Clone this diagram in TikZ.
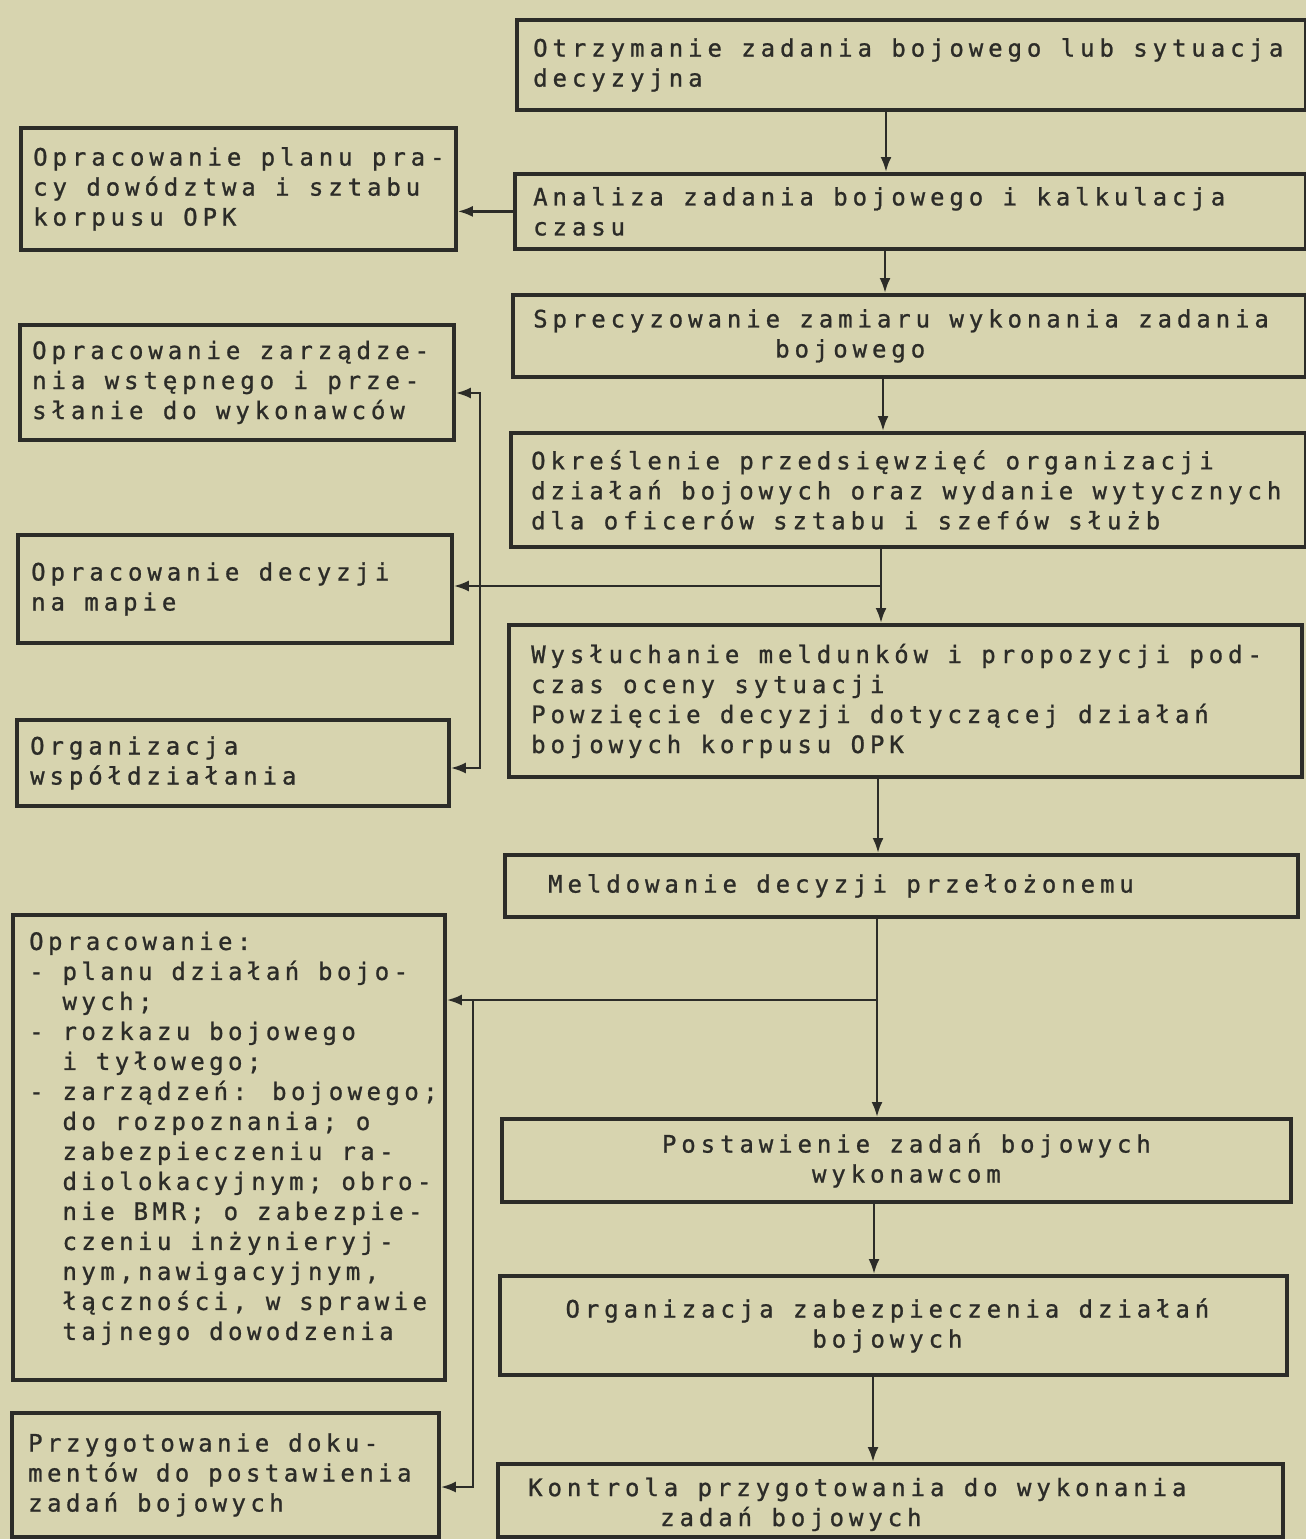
\documentclass[tikz,border=0pt]{standalone}
\usepackage{fontspec}
\newfontfamily\tw{DejaVu Sans Mono}[LetterSpace=20.5,FakeBold=1]
\newfontfamily\twn{DejaVu Sans Mono}[LetterSpace=18.5,FakeBold=1]
\usetikzlibrary{arrows.meta}
\definecolor{paper}{RGB}{215,212,175}
\definecolor{ink}{RGB}{44,44,40}
\newcommand\ii{\hphantom{-}\ }
\begin{document}
\begin{tikzpicture}[x=1pt,y=-1pt,
  box/.style={draw=ink, line width=3.8pt, rectangle, inner sep=0pt, anchor=north west},
  txt/.style={text=ink, font=\tw\fontsize{24}{30}\selectfont, inner sep=0pt, align=left},
  txtn/.style={txt, font=\twn\fontsize{24}{30}\selectfont},
  conn/.style={draw=ink, line width=2.5pt},
  arr/.style={conn, -{Latex[length=15pt,width=11pt]}},
  arrb/.style={conn, {Latex[length=15pt,width=11pt]}-{Latex[length=15pt,width=11pt]}}]
\fill[paper] (0,0) rectangle (1306,1539);
\useasboundingbox (0,0) rectangle (1306,1539);

% right column
\node[box, minimum width=789pt, minimum height=90pt] (r1) at (515,18) {};
\node[box, minimum width=791pt, minimum height=75pt] (r2) at (513,172) {};
\node[box, minimum width=793pt, minimum height=82pt] (r3) at (511,293) {};
\node[box, minimum width=795pt, minimum height=114pt] (r4) at (509,431) {};
\node[box, minimum width=793pt, minimum height=152pt] (r5) at (507,623) {};
\node[box, minimum width=793pt, minimum height=62pt] (r6) at (503,853) {};
\node[box, minimum width=789pt, minimum height=83pt] (r7) at (500,1117) {};
\node[box, minimum width=787pt, minimum height=99pt] (r8) at (498,1274) {};
\node[box, minimum width=785pt, minimum height=73pt] (r9) at (496,1462) {};
% left column
\node[box, minimum width=435pt, minimum height=122pt] (l1) at (19,126) {};
\node[box, minimum width=434pt, minimum height=115pt] (l2) at (18,323) {};
\node[box, minimum width=434pt, minimum height=108pt] (l3) at (16,533) {};
\node[box, minimum width=432pt, minimum height=86pt] (l4) at (15,718) {};
\node[box, minimum width=432pt, minimum height=465pt] (l5) at (11,913) {};
\node[box, minimum width=427pt, minimum height=124pt] (l6) at (10,1411) {};

% texts
\node[txt, anchor=west] (r1t) at ([xshift=18pt]r1.west) {Otrzymanie zadania bojowego lub sytuacja\\decyzyjna};
\node[txt, anchor=west] (r2t) at ([xshift=20pt]r2.west) {Analiza zadania bojowego i kalkulacja\\czasu};
\node[txt, anchor=west] (r3t) at ([xshift=22pt]r3.west) {Sprecyzowanie zamiaru wykonania zadania\\\hspace*{242pt}bojowego};
\node[txt, anchor=west] (r4t) at ([xshift=22pt]r4.west) {Określenie przedsięwzięć organizacji\\działań bojowych oraz wydanie wytycznych\\dla oficerów sztabu i szefów służb};
\node[txt, anchor=west] (r5t) at ([xshift=24pt]r5.west) {Wysłuchanie meldunków i propozycji pod-\\czas oceny sytuacji\\Powzięcie decyzji dotyczącej działań\\bojowych korpusu OPK};
\node[txt, anchor=west] (r6t) at ([xshift=45pt]r6.west) {Meldowanie decyzji przełożonemu};
\node[txt, align=center] (r7t) at ([xshift=10pt]r7.center) {Postawienie zadań bojowych\\wykonawcom};
\node[txt, align=center] (r8t) at ([xshift=-6pt]r8.center) {Organizacja zabezpieczenia działań\\bojowych};
\node[txt, anchor=west] (r9t) at ([xshift=32pt,yshift=-4pt]r9.west) {Kontrola przygotowania do wykonania\\\hspace*{132pt}zadań bojowych};

\node[txt, anchor=west] (l1t) at ([xshift=14pt]l1.west) {Opracowanie planu pra-\\cy dowództwa i sztabu\\korpusu OPK};
\node[txt, anchor=west] (l2t) at ([xshift=14pt]l2.west) {Opracowanie zarządze-\\nia wstępnego i prze-\\słanie do wykonawców};
\node[txt, anchor=west] (l3t) at ([xshift=15pt]l3.west) {Opracowanie decyzji\\na mapie};
\node[txt, anchor=west] (l4t) at ([xshift=15pt]l4.west) {Organizacja\\współdziałania};
\node[txtn, anchor=west] (l5t) at ([xshift=18pt,yshift=9pt]l5.west) {Opracowanie:\\- planu działań bojo-\\\ii wych;\\- rozkazu bojowego\\\ii i tyłowego;\\- zarządzeń: bojowego;\\\ii do rozpoznania; o\\\ii zabezpieczeniu ra-\\\ii diolokacyjnym; obro-\\\ii nie BMR; o zabezpie-\\\ii czeniu inżynieryj-\\\ii nym,nawigacyjnym,\\\ii łączności, w sprawie\\\ii tajnego dowodzenia};
\node[txtn, anchor=west] (l6t) at ([xshift=18pt]l6.west) {Przygotowanie doku-\\mentów do postawienia\\zadań bojowych};

% main flow
\coordinate (c12) at (886,0);
\coordinate (c23) at (885,0);
\coordinate (c34) at (883,0);
\coordinate (c45) at (881,0);
\coordinate (c56) at (878,0);
\coordinate (c67) at (877,0);
\coordinate (c78) at (874,0);
\coordinate (c89) at (873,0);
\draw[arr] (r1.south -| c12) -- (r2.north -| c12);
\draw[arr] (r2.south -| c23) -- (r3.north -| c23);
\draw[arr] (r3.south -| c34) -- (r4.north -| c34);
\draw[arr] (r4.south -| c45) -- (r5.north -| c45);
\draw[arr] (r5.south -| c56) -- (r6.north -| c56);
\draw[arr] (r6.south -| c67) -- (r7.north -| c67);
\draw[arr] (r7.south -| c78) -- (r8.north -| c78);
\draw[arr] (r8.south -| c89) -- (r9.north -| c89);

% side branches
\draw[arr] (r2.west) -- (l1.east |- r2.west);
\coordinate (j1) at (881,586);
\draw[arr] (j1) -- (j1 -| l3.east);
\coordinate (b1) at (480,393);
\coordinate (b2) at (480,768);
\draw[arrb] (b1 -| l2.east) -- (b1) -- (b2) -- (b2 -| l4.east);
\coordinate (j2) at (877,1000);
\draw[arr] (j2) -- (j2 -| l5.east);
\coordinate (b3) at (473,1000);
\coordinate (b4) at (473,1487);
\draw[arr] (b3) -- (b4) -- (b4 -| l6.east);
\end{tikzpicture}
\end{document}
